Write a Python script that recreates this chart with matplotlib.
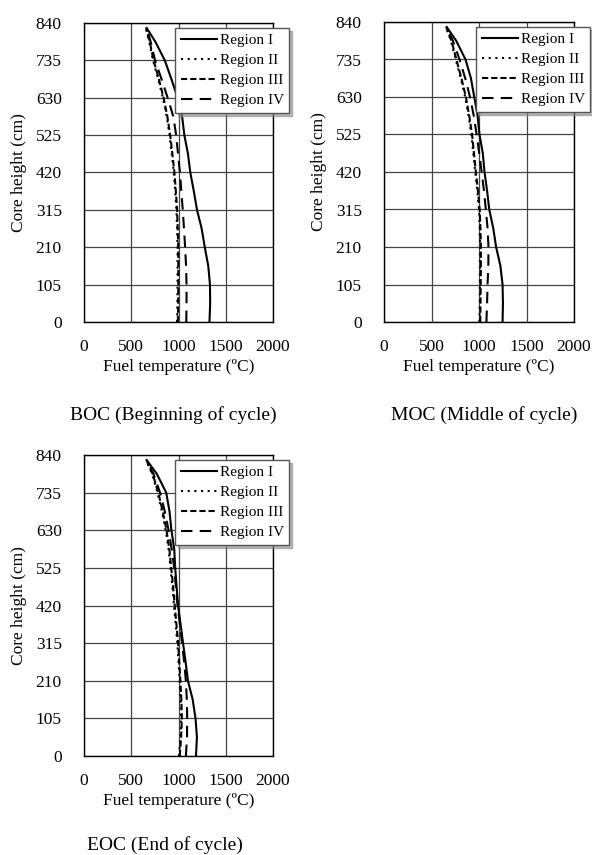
import matplotlib
matplotlib.use("Agg")
import matplotlib.pyplot as plt

plt.rcParams['font.family'] = ['Liberation Serif', 'DejaVu Serif']

heights = [0, 52.5, 105, 157.5, 210, 262.5, 315, 367.5, 420, 472.5, 525,
           577.5, 630, 682.5, 735, 787.5, 826]
regions = ["Region I", "Region II", "Region III", "Region IV"]

boc_I = [1328, 1335, 1333, 1315, 1278, 1245, 1196, 1162, 1125, 1100, 1062, 1038, 990, 925, 855, 755, 663]
boc_II = [985, 988, 990, 990, 990, 985, 978, 965, 950, 928, 905, 875, 835, 785, 730, 690, 655]
boc_III = [993, 996, 998, 998, 997, 992, 985, 972, 957, 935, 912, 882, 842, 792, 737, 695, 657]
boc_IV = [1082, 1085, 1085, 1080, 1070, 1058, 1045, 1030, 1015, 995, 975, 945, 885, 820, 752, 705, 663]

moc_I = [1248, 1252, 1248, 1225, 1180, 1150, 1108, 1085, 1058, 1040, 1005, 985, 950, 915, 858, 760, 660]
moc_II = [1005, 1008, 1010, 1012, 1012, 1008, 1000, 982, 960, 940, 920, 890, 855, 808, 755, 705, 652]
moc_III = [1013, 1016, 1018, 1020, 1020, 1015, 1007, 989, 967, 947, 927, 897, 862, 815, 762, 710, 655]
moc_IV = [1078, 1085, 1090, 1098, 1100, 1090, 1072, 1052, 1028, 1002, 975, 945, 905, 855, 795, 725, 660]

eoc_I = [1185, 1195, 1180, 1150, 1100, 1075, 1048, 1022, 995, 980, 965, 955, 925, 905, 870, 770, 663]
eoc_II = [1005, 1020, 1028, 1022, 1012, 1000, 988, 970, 952, 935, 915, 895, 865, 825, 778, 720, 658]
eoc_III = [1013, 1028, 1036, 1030, 1020, 1008, 996, 978, 960, 943, 923, 903, 873, 833, 786, 726, 660]
eoc_IV = [1078, 1090, 1092, 1088, 1078, 1060, 1037, 1015, 990, 972, 955, 928, 895, 855, 805, 735, 663]

xticks = [0, 500, 1000, 1500, 2000]
yticks = [0, 105, 210, 315, 420, 525, 630, 735, 840]
captions = ["BOC (Beginning of cycle)", "MOC (Middle of cycle)", "EOC (End of cycle)"]

styles = [
    dict(linestyle='-'),
    dict(linestyle=(0, (1, 2.2))),
    dict(linestyle=(0, (3, 1.4))),
    dict(linestyle=(0, (5.5, 3.5))),
]

W, H = 592, 855
fig = plt.figure(figsize=(W / 100, H / 100), dpi=100)

panels = [
    ((84, 23, 273, 322), [boc_I, boc_II, boc_III, boc_IV]),
    ((384, 22, 574, 322), [moc_I, moc_II, moc_III, moc_IV]),
    ((84, 455, 273, 756), [eoc_I, eoc_II, eoc_III, eoc_IV]),
]
caption_pos = [(173, 415), (484, 415), (165, 845)]

for (l, t, r, b), series in panels:
    ax = fig.add_axes([l / W, 1 - b / H, (r - l) / W, (b - t) / H])
    for name, vals, st in zip(regions, series, styles):
        ax.plot(vals, heights, color='black', linewidth=1.5, label=name, **st)
    ax.set_xlim(0, 2000)
    ax.set_ylim(0, 840)
    ax.set_xticks(xticks)
    ax.set_yticks(yticks)
    ax.grid(True, color='#444444', linewidth=0.9)
    ax.set_axisbelow(True)
    ax.tick_params(axis='x', length=0, labelsize=12.5, pad=12)
    ax.tick_params(axis='y', length=0, labelsize=12.5, pad=16)
    for s in ax.spines.values():
        s.set_color('black')
        s.set_linewidth(1.0)
    ax.set_xlabel("Fuel temperature (ºC)", fontsize=12.5, labelpad=3)
    ax.set_ylabel("Core height (cm)", fontsize=12.5, labelpad=6)
    leg = ax.legend(loc='upper right', bbox_to_anchor=(1.085, 0.983), borderaxespad=0,
                    fontsize=11, handlelength=2.4, handletextpad=0.15,
                    labelspacing=0.42, frameon=True, fancybox=False,
                    shadow={'color': '#888888', 'alpha': 0.6},
                    framealpha=1, borderpad=0.35)
    leg.get_frame().set_edgecolor('#555555')
    leg.get_frame().set_linewidth(1.0)

for pos, cap in zip(caption_pos, captions):
    fig.text(pos[0] / W, 1 - pos[1] / H, cap, fontsize=14, ha='center', va='center')

fig.savefig("out.png", dpi=100)
